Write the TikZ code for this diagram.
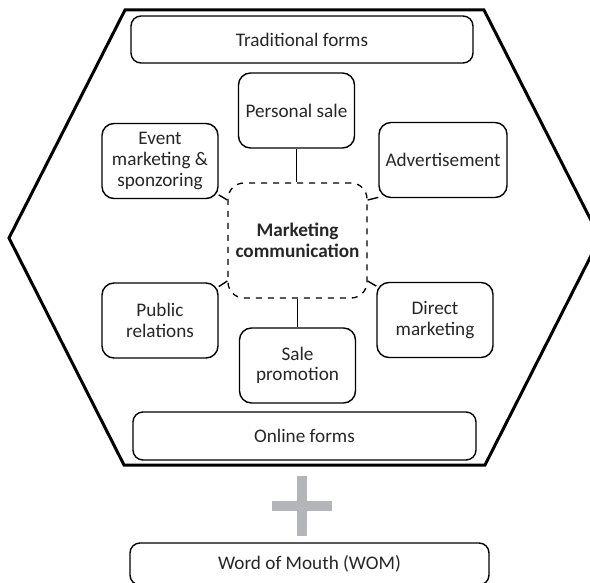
\documentclass[tikz,border=0pt]{standalone}
\usepackage{fontspec}
\setmainfont{Carlito}
\definecolor{plusgray}{RGB}{179,181,185}

\begin{document}
\begin{tikzpicture}[x=0.5pt, y=-0.5pt,
		every node/.style={font=\fontsize{9.6}{10.3}\selectfont, text=black!85, align=center},
		formbox/.style={draw, line width=0.7pt, rounded corners=5pt, inner sep=0pt},
		toolbox/.style={draw, line width=0.7pt, rounded corners=6pt, inner sep=0pt, minimum width=58pt, minimum height=37.5pt},
		centerbox/.style={draw, dashed, line width=0.65pt, rounded corners=8pt, inner sep=0pt, minimum width=69.5pt, minimum height=57.5pt, font=\fontsize{9.6}{10.3}\selectfont\bfseries}]
			\useasboundingbox (0,0) rectangle (590,583);
			%%%%%%%%%%%%%%%%%%%%%%%%%%%%%%%%
			\draw[line width=1.5pt, line join=miter] (125,10)--(484,10)--(600,238)--(485,465)--(124,465)--(9,238)--cycle;
			%%%%%%%%%%%%%%%%%%%%%%%%%%%%%%%%
			\node[formbox, minimum width=171pt, minimum height=23.5pt] (trad) at (302,39.5){Traditional forms};
			\node[formbox, minimum width=171.5pt, minimum height=24pt] (online) at (304.5,436){Online forms};
			\node[centerbox] (mc) at (297.5,240.5){Marketing\\communication};
			\node[toolbox] (personal) at (296.5,110.5){Personal sale};
			\node[toolbox] (event) at (160,161){Event\\marketing \&\\sponzoring};
			\node[toolbox, minimum width=64pt] (advert) at (443,160){Advertisement};
			\node[toolbox] (public) at (160,320.5){Public\\relations};
			\node[toolbox] (sale) at (297.5,365.5){Sale\\promotion};
			\node[toolbox] (direct) at (435,320){Direct\\marketing};
			%%%%%%%%%%%%%%%%%%%%%%%%%%%%%
			\draw[line width=0.7pt] (personal.south)--(personal.south |- mc.north);
			\draw[line width=0.7pt] (sale.north |- mc.south)--(sale.north);
			\draw[line width=0.7pt] (event.-30)--(mc.150);
			\draw[line width=0.7pt] (advert.210)--(mc.30);
			\draw[line width=0.7pt] (public.30)--(mc.210);
			\draw[line width=0.7pt] (direct.150)--(mc.-30);
			%%%%%%%%%%%%%%%%%%%%%%%%%%%%%
			\fill[plusgray] (297,476) rectangle (307,536);
			\fill[plusgray] (272,501) rectangle (332,511);
			\node[formbox, minimum width=179.5pt, minimum height=21pt] (wom) at (309.5,564){Word of Mouth (WOM)};
		\end{tikzpicture}
\end{document}
